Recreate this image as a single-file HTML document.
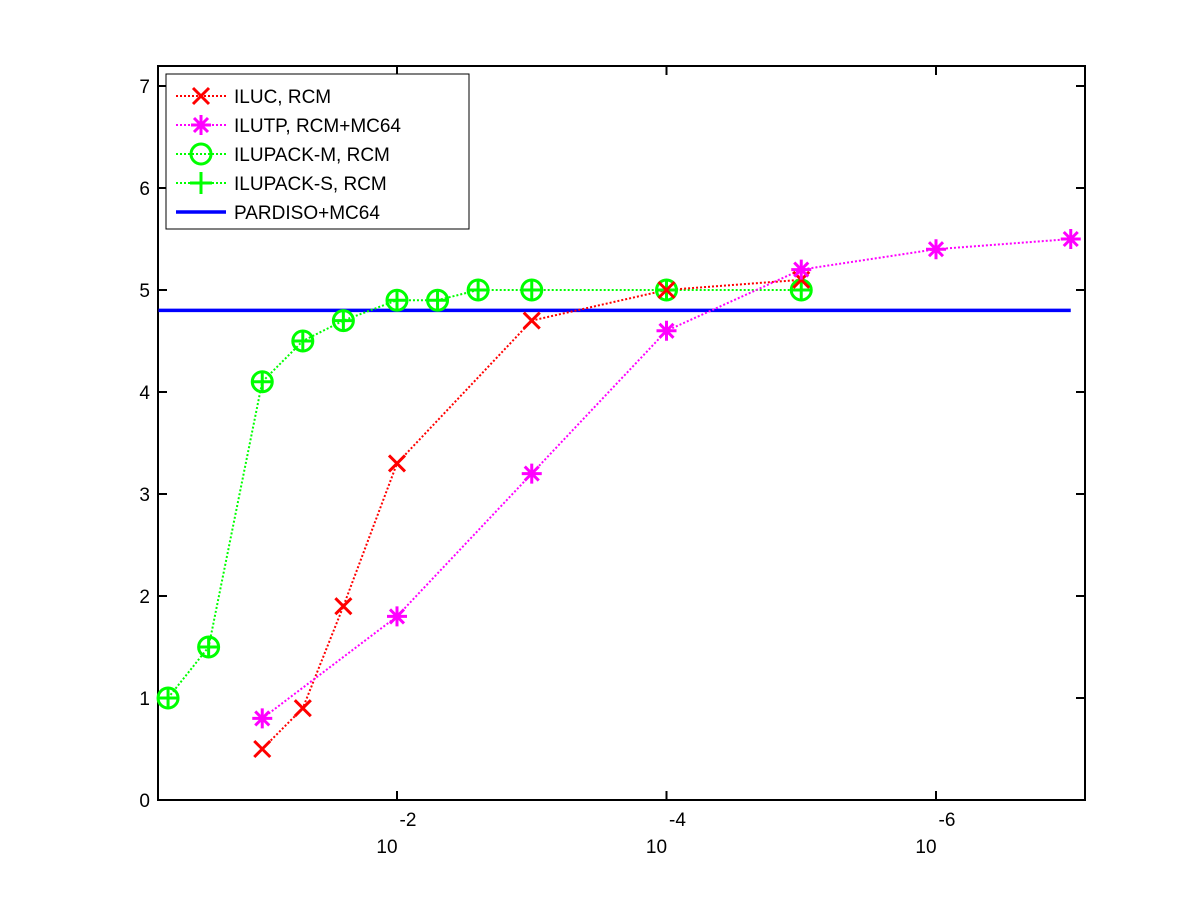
<!DOCTYPE html>
<html><head><meta charset="utf-8"><style>
body{margin:0;background:#fff}
svg text{font-family:"Liberation Sans",sans-serif;fill:#000}
</style></head><body>
<svg id="c" width="1200" height="900" xmlns="http://www.w3.org/2000/svg"></svg>
<script>
const ylabels=[0,1,2,3,4,5,6,7];
const xTickExps=[-2,-4,-6];
const ilucX=[-1,-1.301,-1.602,-2,-3,-4,-5];
const ilucY=[0.5,0.9,1.9,3.3,4.7,5.0,5.1];
const ilutpX=[-1,-2,-3,-4,-5,-6,-7];
const ilutpY=[0.8,1.8,3.2,4.6,5.2,5.4,5.5];
const ilupackX=[-0.301,-0.602,-1,-1.301,-1.602,-2,-2.301,-2.602,-3,-4,-5];
const ilupackY=[1.0,1.5,4.1,4.5,4.7,4.9,4.9,5.0,5.0,5.0,5.0];
const pardisoX=[-0.23,-7];
const pardisoY=[4.8,4.8];
const L=158,R=1085,T=66,B=800;
const xs=v=>397+(-2-v)*134.75;
const ys=v=>800-v*102;
const svg=document.getElementById('c');
const NS='http://www.w3.org/2000/svg';
function mk(tag,attrs,parent){const e=document.createElementNS(NS,tag);for(const k in attrs)e.setAttribute(k,attrs[k]);(parent||svg).appendChild(e);return e;}
let e;
e=mk('rect',{x:L,y:T,width:R-L,height:B-T,fill:'#fff',stroke:'#000','stroke-width':2});


ylabels.forEach(v=>{
  const y=ys(v);
  mk('line',{x1:L,x2:L+9,y1:y,y2:y,stroke:'#000','stroke-width':2});
  mk('line',{x1:R,x2:R-9,y1:y,y2:y,stroke:'#000','stroke-width':2});
  const t=mk('text',{x:L-8,y:y+7,'text-anchor':'end','font-size':19});
  t.textContent=v;
  
  
});
xTickExps.forEach(v=>{
  const x=xs(v);
  mk('line',{x1:x,x2:x,y1:B,y2:B-9,stroke:'#000','stroke-width':2});
  mk('line',{x1:x,x2:x,y1:T,y2:T+9,stroke:'#000','stroke-width':2});
  const t=mk('text',{x:x-10,y:853,'text-anchor':'middle','font-size':19});
  t.textContent='10';
  
  
  const s=mk('text',{x:x+11,y:826,'text-anchor':'middle','font-size':19});
  s.textContent=String(v);
  
  
});
function line(X,Y,color,dash,w,name){
  const p=mk('polyline',{points:X.map((x,i)=>xs(x)+','+ys(Y[i])).join(' '),fill:'none',stroke:color,'stroke-width':w,'stroke-dasharray':dash});
  
  
}
function xm(cx,cy,c,g){mk('path',{d:`M${cx-8},${cy-8}L${cx+8},${cy+8}M${cx-8},${cy+8}L${cx+8},${cy-8}`,stroke:c,'stroke-width':3},g);}
function star(cx,cy,c,g){mk('path',{d:`M${cx-10},${cy}L${cx+10},${cy}M${cx},${cy-10}L${cx},${cy+10}M${cx-7},${cy-7}L${cx+7},${cy+7}M${cx-7},${cy+7}L${cx+7},${cy-7}`,stroke:c,'stroke-width':3},g);}
function circ(cx,cy,c,g){mk('circle',{cx:cx,cy:cy,r:10,fill:'none',stroke:c,'stroke-width':3},g);}
function plus(cx,cy,c,g){mk('path',{d:`M${cx-11},${cy}L${cx+11},${cy}M${cx},${cy-11}L${cx},${cy+11}`,stroke:c,'stroke-width':3},g);}
line(pardisoX,pardisoY,'#0000ff','',3.5,'pardiso-line');
line(ilupackX,ilupackY,'#00ff00','2,2',2,'ilupack-line');
line(ilucX,ilucY,'#ff0000','2,2',2,'iluc-line');
line(ilutpX,ilutpY,'#ff00ff','2,2',2,'ilutp-line');
function marks(X,Y,fns,c,name){
  X.forEach((x,i)=>{
    const g=mk('g',{});
    
    
    fns.forEach(f=>f(xs(x),ys(Y[i]),c,g));
  });
}
marks(ilupackX,ilupackY,[circ,plus],'#00ff00','ilupack-point');
marks(ilucX,ilucY,[xm],'#ff0000','iluc-point');
marks(ilutpX,ilutpY,[star],'#ff00ff','ilutp-point');
// legend
const lg=mk('g',{});


mk('rect',{x:166,y:74,width:303,height:155,fill:'#fff',stroke:'#000','stroke-width':1},lg);
const entries=[['ILUC, RCM','#ff0000',[xm],'2,2',2],['ILUTP, RCM+MC64','#ff00ff',[star],'2,2',2],['ILUPACK-M, RCM','#00ff00',[circ],'2,2',2],['ILUPACK-S, RCM','#00ff00',[plus],'2,2',2],['PARDISO+MC64','#0000ff',[],'',3.5]];
entries.forEach((en,i)=>{
  const y=96+i*29;
  const g=mk('g',{},lg);
  
  
  mk('line',{x1:176,x2:226,y1:y,y2:y,stroke:en[1],'stroke-width':en[4],'stroke-dasharray':en[3]},g);
  en[2].forEach(f=>f(201,y,en[1],g));
  const t=mk('text',{x:234,y:y+7,'font-size':19},g);
  t.textContent=en[0];
});
</script>
</body></html>
